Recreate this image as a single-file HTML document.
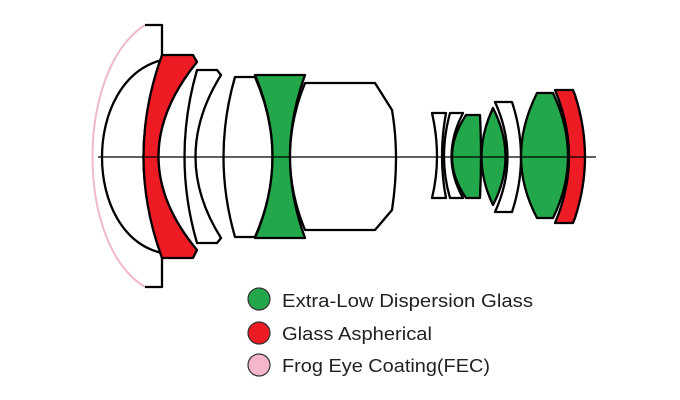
<!DOCTYPE html>
<html><head><meta charset="utf-8"><style>
html,body{margin:0;padding:0;background:#fff;}
svg{display:block;}
text{font-family:"Liberation Sans",sans-serif;font-size:18.5px;fill:#222;}
</style></head><body>
<svg width="680" height="400" viewBox="0 0 680 400" xmlns="http://www.w3.org/2000/svg">
<g stroke="#000" stroke-width="2.3" stroke-linejoin="round">
<path d="M145,25 C75,70 75,245 145,287" fill="none" stroke="#f0b8c8" stroke-width="2"/>
<path d="M145,25 H162 V60 M162,253 V287 H145" fill="none"/>
<path d="M162,60 C82,80 82,235 162,253 Q125,157 162,60 Z" fill="#fff"/>
<path d="M162,55 H193 L197,62 Q120,157 197,250 L193,258 H162 Q125,157 162,55 Z" fill="#ed1c24"/>
<path d="M197,70 H217 L221,75 Q170,157 221,238 L217,243 H197 Q172,157 197,70 Z" fill="#fff"/>
<path d="M235,77 H255 Q290,157 255,237 H235 Q212,157 235,77 Z" fill="#fff"/>
<path d="M255,75 H305 Q275,157 305,238 H255 Q290,157 255,75 Z" fill="#22a84a"/>
<path d="M305,83 H375 L392,110 Q400,157 392,210 L375,230 H305 Q275,157 305,83 Z" fill="#fff"/>
<path d="M432,113 H446 Q438,157 446,198 H432 Q442,157 432,113 Z" fill="#fff"/>
<path d="M450,113 H463 Q440,157 463,198 H450 Q438,157 450,113 Z" fill="#fff"/>
<path d="M466,115 H480 Q482,157 480,198 H466 Q438,157 466,115 Z" fill="#22a84a"/>
<path d="M495,102 H512 Q530,157 512,212 H495 Q520,157 495,102 Z" fill="#fff"/>
<path d="M493,108 Q518,157 493,205 Q470,157 493,108 Z" fill="#22a84a"/>
<path d="M537,93 H553 Q583,157 553,218 H537 Q505,157 537,93 Z" fill="#22a84a"/>
<path d="M555,90 H573 L575,95 Q595,157 575,218 L573,223 H555 Q583,157 555,90 Z" fill="#ed1c24"/>
</g>
<line x1="98" y1="157" x2="596" y2="157" stroke="#000" stroke-width="1.2"/>
<g stroke="#333" stroke-width="1.2">
<circle cx="259" cy="299" r="11" fill="#22a84a"/>
<circle cx="259" cy="333" r="11" fill="#ed1c24"/>
<circle cx="259" cy="365" r="11" fill="#f4b6c8"/>
</g>
<text x="282" y="307" textLength="251" lengthAdjust="spacingAndGlyphs">Extra-Low Dispersion Glass</text>
<text x="282" y="340" textLength="150" lengthAdjust="spacingAndGlyphs">Glass Aspherical</text>
<text x="282" y="372" textLength="208" lengthAdjust="spacingAndGlyphs">Frog Eye Coating(FEC)</text>
</svg>
</body></html>
